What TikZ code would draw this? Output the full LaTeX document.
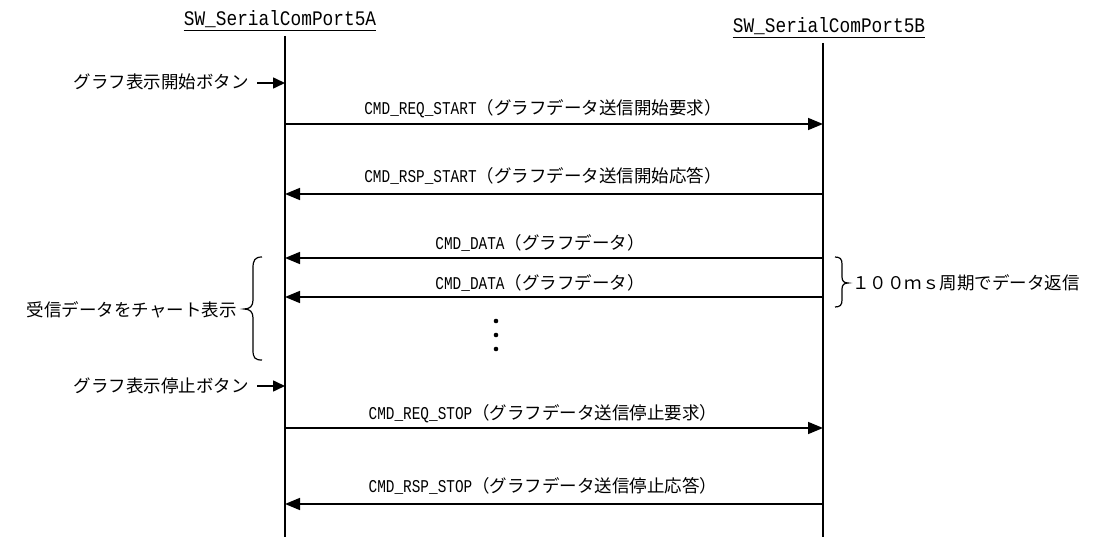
\documentclass[tikz,border=0pt]{standalone}
\usepackage{fontspec}
\setmainfont{Liberation Mono}
\newfontfamily\jpfont{Noto Sans CJK JP}
\newfontfamily\latfont[FakeStretch=0.8]{Liberation Mono}
\newfontfamily\hdrfont[FakeStretch=0.86]{Liberation Mono}
\usetikzlibrary{arrows.meta}
\newcommand{\msgtxt}[2]{{\fontsize{18}{20}\latfont #1}{\fontsize{17.5}{20}\jpfont #2}}
\newcommand{\jptxt}[1]{{\fontsize{17.5}{20}\jpfont #1}}
\begin{document}
\begin{tikzpicture}[x=1pt,y=-1pt,
  lifeline/.style={line width=1.6pt},
  msg/.style={line width=1.6pt,-{Triangle[length=15pt,width=12pt]}},
  btn/.style={line width=1.6pt,-{Triangle[length=12pt,width=11pt]}},
  lbl/.style={inner sep=0pt,anchor=base},
  hdr/.style={inner sep=0pt,anchor=base,font=\fontsize{20.7}{22}\hdrfont},
  uline/.style={line width=0.9pt},
  bracestyle/.style={line width=1.2pt},
  dotstyle/.style={fill=black,draw=none}]
\useasboundingbox[fill=white] (0,0) rectangle (1097,537);

% headers
\node[hdr] (hA) at (280,26) {SW\_SerialComPort5A};
\node[hdr] (hB) at (829,33) {SW\_SerialComPort5B};
\draw[uline] ([yshift=-4.5pt]hA.base west) -- ([yshift=-4.5pt]hA.base east);
\draw[uline] ([yshift=-4.5pt]hB.base west) -- ([yshift=-4.5pt]hB.base east);

% lifelines
\coordinate (aTop) at (285,36);
\coordinate (aBot) at (285,537);
\coordinate (bTop) at (823,43);
\coordinate (bBot) at (823,537);
\draw[lifeline] (aTop) -- (aBot);
\draw[lifeline] (bTop) -- (bBot);

% message coordinates
\foreach \n/\y in {1/124,2/194,3/258,4/297,5/428,6/504}{
  \coordinate (a\n) at (285,\y);
  \coordinate (b\n) at (823,\y);
}

% button 1
\node[lbl,anchor=base east] (btn1) at (249,89) {\jptxt{グラフ表示開始ボタン}};
\coordinate (s1) at (257,83);
\coordinate (t1) at (285,83);
\draw[btn] (s1) -- (t1);

% messages
\draw[msg] (a1) -- (b1);
\node[lbl] (m1) at (543,115) {\msgtxt{CMD\_REQ\_START}{（グラフデータ送信開始要求）}};
\draw[msg] (b2) -- (a2);
\node[lbl] (m2) at (543,183) {\msgtxt{CMD\_RSP\_START}{（グラフデータ送信開始応答）}};
\draw[msg] (b3) -- (a3);
\node[lbl] (m3) at (540,250) {\msgtxt{CMD\_DATA}{（グラフデータ）}};
\draw[msg] (b4) -- (a4);
\node[lbl] (m4) at (540,289) {\msgtxt{CMD\_DATA}{（グラフデータ）}};

% dots
\fill[dotstyle] (496,321) circle (2.3);
\fill[dotstyle] (496,335) circle (2.3);
\fill[dotstyle] (496,349) circle (2.3);

% left brace
\draw[bracestyle] (262,257) .. controls (255,257) and (253,260) .. (253,268)
  -- (253,300) .. controls (253,306) and (250,309) .. (244,309)
  .. controls (250,309) and (253,312) .. (253,318)
  -- (253,350) .. controls (253,358) and (255,360) .. (262,360);
\node[lbl,anchor=base east] (recv) at (237,316) {\jptxt{受信データをチャート表示}};

% right brace
\draw[bracestyle] (835,257) .. controls (840,257) and (842,259) .. (842,264)
  -- (842,277) .. controls (842,281) and (844,283) .. (848,283)
  .. controls (844,283) and (842,285) .. (842,289)
  -- (842,300) .. controls (842,305) and (840,307) .. (835,307);
\node[lbl,anchor=base west] (period) at (852,289) {\jptxt{１００ｍｓ周期でデータ返信}};

% button 2
\node[lbl,anchor=base east] (btn2) at (249,392) {\jptxt{グラフ表示停止ボタン}};
\coordinate (s2) at (257,386);
\coordinate (t2) at (285,386);
\draw[btn] (s2) -- (t2);

\draw[msg] (a5) -- (b5);
\node[lbl] (m5) at (543,419) {\msgtxt{CMD\_REQ\_STOP}{（グラフデータ送信停止要求）}};
\draw[msg] (b6) -- (a6);
\node[lbl] (m6) at (543,492) {\msgtxt{CMD\_RSP\_STOP}{（グラフデータ送信停止応答）}};
\end{tikzpicture}
\end{document}
